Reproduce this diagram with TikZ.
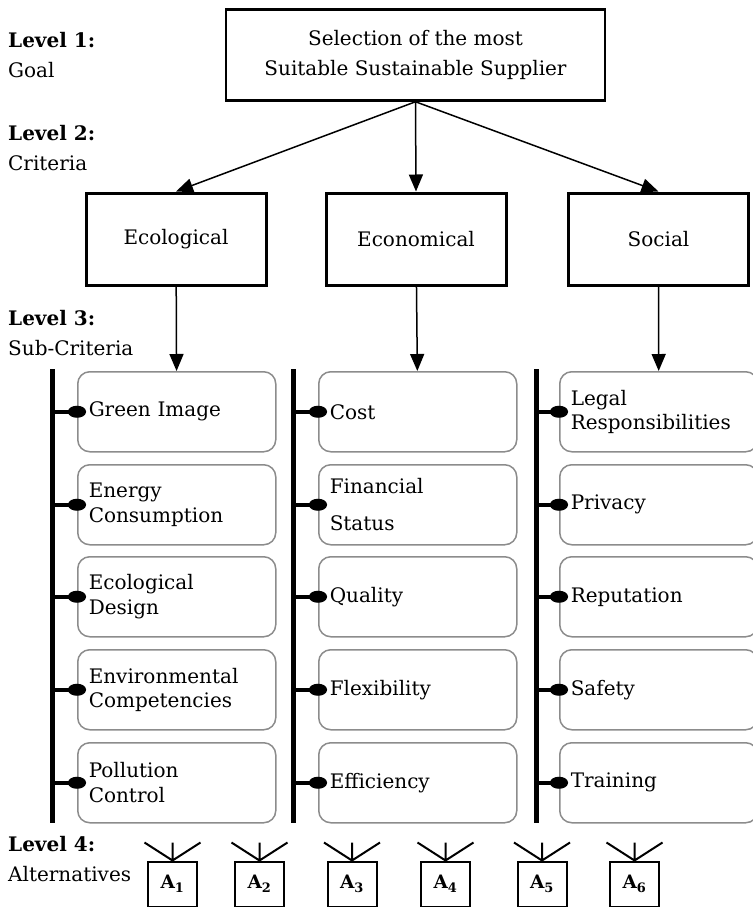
\documentclass[tikz,border=0pt]{standalone}
\usepackage{fontspec}
\setmainfont{DejaVu Serif}
\usetikzlibrary{positioning}
\usetikzlibrary{arrows.meta}

\begin{document}
\begin{tikzpicture}[x=1pt,y=-1pt,
        levellabel/.style={anchor=west,inner sep=0pt,align=left,font=\fontsize{20}{30}\selectfont},
        goalbox/.style={draw,line width=2.5pt,minimum width=379pt,minimum height=91pt,align=center,font=\fontsize{20}{30}\selectfont},
        critbox/.style={draw,line width=3pt,minimum width=180pt,minimum height=92pt,font=\fontsize{20}{24}\selectfont},
        subbox/.style={draw=black!45,line width=1.5pt,rounded corners=12pt,anchor=north west,text width=176pt,inner xsep=11pt,minimum height=80pt,align=left,font=\fontsize{20}{24.5}\selectfont},
        altbox/.style={draw,line width=2pt,minimum width=49pt,minimum height=45pt,font=\fontsize{18.5}{20}\selectfont\bfseries},
        arrowline/.style={line width=1.5pt,-{Triangle[length=17pt,width=14pt]}},
        barline/.style={line width=5pt},
        dotline/.style={line width=4pt,-{Ellipse[length=18pt,width=12pt]},shorten >=-9pt},
        fanline/.style={line width=2pt}]
        \useasboundingbox (0,0) rectangle (752,907);

        \node[levellabel] (LevelOne) at (8,55) {\textbf{Level 1:}\\Goal};
        \node[levellabel] (LevelTwo) at (8,148) {\textbf{Level 2:}\\Criteria};
        \node[levellabel] (LevelThree) at (8,333) {\textbf{Level 3:}\\Sub-Criteria};
        \node[levellabel] (LevelFour) at (8,859) {\textbf{Level 4:}\\Alternatives};

        \node[goalbox] (Goal) at (415.5,55) {Selection of the most\\Suitable Sustainable Supplier};

        \node[critbox] (Ecological) at (176,239) {Ecological};
        \node[critbox] (Economical) at (416,239) {Economical};
        \node[critbox] (Social) at (658.5,239) {Social};

        \node[subbox] (GreenImage) at (77,371) {Green Image};
        \node[subbox] (Energy) at (77,464) {Energy\\Consumption};
        \node[subbox] (EcoDesign) at (77,556) {Ecological\\Design};
        \node[subbox] (EnvComp) at (77,649) {Environmental\\Competencies};
        \node[subbox] (Pollution) at (77,742) {Pollution\\Control};

        \node[subbox] (Cost) at (318,371) {Cost};
        \node[subbox] (Financial) at (318,464) {Financial\\[12pt]Status};
        \node[subbox] (Quality) at (318,556) {Quality};
        \node[subbox] (Flexibility) at (318,649) {Flexibility};
        \node[subbox] (Efficiency) at (318,742) {Efficiency};

        \node[subbox] (Legal) at (559,371) {Legal\\Responsibilities};
        \node[subbox] (Privacy) at (559,464) {Privacy};
        \node[subbox] (Reputation) at (559,556) {Reputation};
        \node[subbox] (Safety) at (559,649) {Safety};
        \node[subbox] (Training) at (559,742) {Training};

        \coordinate (EcoTop) at (52,369);
        \coordinate (EcoBottom) at (52,823);
        \coordinate (EconTop) at (293,369);
        \coordinate (EconBottom) at (293,823);
        \coordinate (SocTop) at (536,369);
        \coordinate (SocBottom) at (536,823);

        \node[altbox] (A1) at (172.5,884) {A\textsubscript{1}};
        \node[altbox] (A2) at (259.5,884) {A\textsubscript{2}};
        \node[altbox] (A3) at (352,884) {A\textsubscript{3}};
        \node[altbox] (A4) at (445.5,884) {A\textsubscript{4}};
        \node[altbox] (A5) at (542,884) {A\textsubscript{5}};
        \node[altbox] (A6) at (634.5,884) {A\textsubscript{6}};

        \draw[arrowline] (Goal.south) -- (Ecological.north);
        \draw[arrowline] (Goal.south) -- (Economical.north);
        \draw[arrowline] (Goal.south) -- (Social.north);

        \draw[arrowline] (Ecological) -- (GreenImage);
        \draw[arrowline] (Economical) -- (Cost);
        \draw[arrowline] (Social) -- (Legal);

        \draw[barline] (EcoTop) -- (EcoBottom);
        \draw[barline] (EconTop) -- (EconBottom);
        \draw[barline] (SocTop) -- (SocBottom);

        \draw[dotline] (EcoTop |- GreenImage.west) -- (GreenImage.west);
        \draw[dotline] (EcoTop |- Energy.west) -- (Energy.west);
        \draw[dotline] (EcoTop |- EcoDesign.west) -- (EcoDesign.west);
        \draw[dotline] (EcoTop |- EnvComp.west) -- (EnvComp.west);
        \draw[dotline] (EcoTop |- Pollution.west) -- (Pollution.west);

        \draw[dotline] (EconTop |- Cost.west) -- (Cost.west);
        \draw[dotline] (EconTop |- Financial.west) -- (Financial.west);
        \draw[dotline] (EconTop |- Quality.west) -- (Quality.west);
        \draw[dotline] (EconTop |- Flexibility.west) -- (Flexibility.west);
        \draw[dotline] (EconTop |- Efficiency.west) -- (Efficiency.west);

        \draw[dotline] (SocTop |- Legal.west) -- (Legal.west);
        \draw[dotline] (SocTop |- Privacy.west) -- (Privacy.west);
        \draw[dotline] (SocTop |- Reputation.west) -- (Reputation.west);
        \draw[dotline] (SocTop |- Safety.west) -- (Safety.west);
        \draw[dotline] (SocTop |- Training.west) -- (Training.west);

        \draw[fanline] (A1.north) -- ++(-28,-18) (A1.north) -- ++(0,-18) (A1.north) -- ++(28,-18);
        \draw[fanline] (A2.north) -- ++(-28,-18) (A2.north) -- ++(0,-18) (A2.north) -- ++(28,-18);
        \draw[fanline] (A3.north) -- ++(-28,-18) (A3.north) -- ++(0,-18) (A3.north) -- ++(28,-18);
        \draw[fanline] (A4.north) -- ++(-28,-18) (A4.north) -- ++(0,-18) (A4.north) -- ++(28,-18);
        \draw[fanline] (A5.north) -- ++(-28,-18) (A5.north) -- ++(0,-18) (A5.north) -- ++(28,-18);
        \draw[fanline] (A6.north) -- ++(-28,-18) (A6.north) -- ++(0,-18) (A6.north) -- ++(28,-18);
    \end{tikzpicture}
\end{document}
